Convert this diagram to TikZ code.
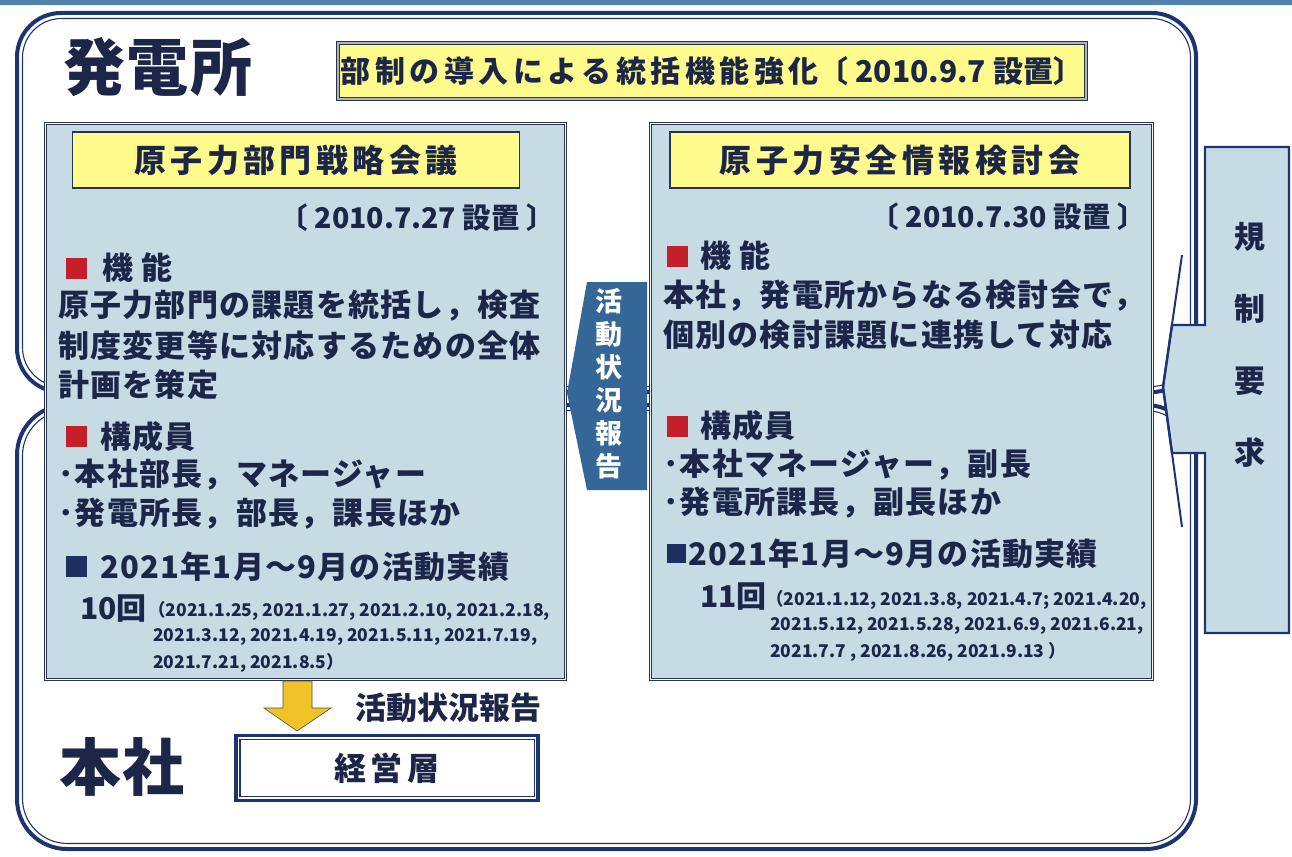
\documentclass[tikz,border=0pt]{standalone}
\usepackage{fontspec}
\setmainfont{Noto Sans CJK JP}
\definecolor{navy}{RGB}{28,52,112}
\definecolor{txt}{RGB}{28,38,72}
\definecolor{panelfill}{RGB}{199,219,229}
\definecolor{panelline}{RGB}{40,52,78}
\definecolor{ybox}{RGB}{255,250,140}
\definecolor{arrowblue}{RGB}{52,102,152}
\definecolor{sqred}{RGB}{196,32,44}
\definecolor{sqnavy}{RGB}{30,48,96}
\definecolor{arrowyellow}{RGB}{240,196,40}
\definecolor{stripe}{RGB}{80,130,175}
\tikzset{
  panel/.style={draw=panelline, line width=1pt, double=white!85!panelfill, double distance=1.6pt, fill=panelfill, anchor=north west, inner sep=0},
  titlebox/.style={draw=panelline, line width=1.6pt, fill=ybox, inner sep=0, font=\fontsize{32}{32}\selectfont\bfseries\addfontfeatures{LetterSpace=14}, text=txt},
  body/.style={anchor=west, inner sep=0, text=txt, font=\fontsize{31}{31}\selectfont\bfseries\addfontfeatures{LetterSpace=4}},
  dates/.style={anchor=west, inner sep=0, text=txt, font=\fontsize{17.5}{17.5}\selectfont\bfseries},
  setup/.style={anchor=east, inner sep=0, text=txt, font=\fontsize{28.5}{28.5}\selectfont\bfseries},
  redsq/.style={fill=sqred, minimum size=21pt, inner sep=0},
  navysq/.style={fill=sqnavy, minimum size=21pt, inner sep=0},
  big/.style={inner sep=0, text=txt, font=\fontsize{62}{62}\selectfont\bfseries\addfontfeatures{LetterSpace=3}},
  frame/.style={draw=navy, line width=4pt},
  framein/.style={draw=navy, line width=1.1pt},
}
\begin{document}
\begin{tikzpicture}[x=1pt,y=-1pt]
\useasboundingbox (0,0) rectangle (1292,856);
\fill[white] (0,0) rectangle (1292,856);
\fill[stripe] (0,0) rectangle (1292,5);

% outer frames
\draw[frame, rounded corners=44pt] (17,13) rectangle (1196,392);
\draw[framein, rounded corners=39pt] (22.5,18.5) rectangle (1190.5,386.5);
\draw[frame, rounded corners=50pt] (17,405) rectangle (1196,849);
\draw[framein, rounded corners=45pt] (22.5,410.5) rectangle (1190.5,843.5);

% big labels
\node[big] (hatsu) at (158,67) {発電所};
\node[big] (honsha) at (122,767) {本社};

% top title
\node[draw=panelline, line width=1pt, double=gray!60, double distance=1.2pt, fill=ybox, minimum width=748pt, minimum height=56pt, inner sep=0] (top) at (712,71) {};
\node[inner sep=0, text=txt, font=\fontsize{30}{30}\selectfont\bfseries] (toptxt) at (712,71) {{\addfontfeatures{LetterSpace=15}部制の導入による統括機能強化}〔 2010.9.7 設置〕};

% panels
\node[panel, minimum width=520pt, minimum height=556pt] (lp) at (45,123) {};
\node[panel, minimum width=502pt, minimum height=556pt] (rp) at (650,123) {};

% panel titles
\node[titlebox, minimum width=447pt, minimum height=56pt] (lt) at (296,160) {原子力部門戦略会議};
\node[titlebox, minimum width=460pt, minimum height=56pt] (rt) at (900,160) {原子力安全情報検討会};

% left panel content
\node[setup] (ls) at (555,218) {〔 2010.7.27 設置 〕};
\node[redsq] (lsq1) at (76,268) {};
\node[body] (lf) at (102,268) {機 能};
\node[body] (l1) at (58,306) {原子力部門の課題を統括し，検査};
\node[body] (l2) at (58,346) {制度変更等に対応するための全体};
\node[body] (l3) at (58,385) {計画を策定};
\node[redsq] (lsq2) at (76,436) {};
\node[body] (lm) at (100,437) {構成員};
\node[body] (l4) at (58,475) {･本社部長，マネージャー};
\node[body] (l5) at (58,514) {･発電所長，部長，課長ほか};
\node[navysq] (lsq3) at (76,566) {};
\node[body] (la) at (100,567) {2021年1月～9月の活動実績};
\node[body, font=\fontsize{30}{30}\selectfont\bfseries] (lc) at (80,609) {10回};
\node[dates] (ld1) at (148,611) {（2021.1.25, 2021.1.27, 2021.2.10, 2021.2.18,};
\node[dates] (ld2) at (153,637) {2021.3.12, 2021.4.19, 2021.5.11, 2021.7.19,};
\node[dates] (ld3) at (153,663) {2021.7.21, 2021.8.5）};

% right panel content
\node[setup] (rs) at (1146,217) {〔 2010.7.30 設置 〕};
\node[redsq] (rsq1) at (677,256) {};
\node[body] (rf) at (700,256) {機 能};
\node[body] (r1) at (663,296) {本社，発電所からなる検討会で，};
\node[body] (r2) at (663,335) {個別の検討課題に連携して対応};
\node[redsq] (rsq2) at (677,426) {};
\node[body] (rm) at (700,426) {構成員};
\node[body] (r3) at (663,465) {･本社マネージャー，副長};
\node[body] (r4) at (663,503) {･発電所課長，副長ほか};
\node[navysq, minimum size=19pt] (rsq3) at (676,553) {};
\node[body] (ra) at (688,554) {2021年1月～9月の活動実績};
\node[body, font=\fontsize{30}{30}\selectfont\bfseries] (rc) at (700,597) {11回};
\node[dates] (rd1) at (766,600) {（2021.1.12, 2021.3.8, 2021.4.7; 2021.4.20,};
\node[dates] (rd2) at (770,626) {2021.5.12, 2021.5.28, 2021.6.9, 2021.6.21,};
\node[dates] (rd3) at (770,652) {2021.7.7 , 2021.8.26, 2021.9.13 ）};

% report arrow between panels
\fill[arrowblue] (647,282) -- (587,282) -- (567,393) -- (587,490) -- (647,490) -- cycle;
\node[inner sep=0, text=white, align=center, font=\fontsize{27}{33}\selectfont\bfseries] (rep) at (609,384) {活\\動\\状\\況\\報\\告};

% regulation requirement box with arrow
\filldraw[fill=panelfill, draw=navy, line width=2.4pt, line join=miter]
  (1205,147) -- (1289,147) -- (1289,633) -- (1205,633) -- (1205,453) -- (1172,453)
  -- (1163,387) -- (1172,325) -- (1205,325) -- cycle;
\draw[navy, line width=2pt] (1182,255) -- (1163,387) -- (1182,527);
\node[inner sep=0, text=txt, align=center, font=\fontsize{31}{72}\selectfont\bfseries] (reg) at (1250,345) {規\\制\\要\\求};

% yellow down arrow
\filldraw[fill=arrowyellow, draw=gray!60!black, line width=0.6pt]
  (283,681) -- (312,681) -- (312,708) -- (331,708) -- (297,731) -- (264,708) -- (283,708) -- cycle;
\node[inner sep=0, text=txt, anchor=west, font=\fontsize{31}{31}\selectfont\bfseries] (reptxt) at (355,708) {活動状況報告};

% management box
\node[draw=navy, line width=1.2pt, double=white, double distance=1.6pt, fill=white, minimum width=297pt, minimum height=60pt, inner sep=0] (mgmt) at (387,768) {};
\draw[navy, line width=3.5pt] ([shift={(-2,-2)}]mgmt.north west) rectangle ([shift={(2,2)}]mgmt.south east);
\node[inner sep=0, text=txt, font=\fontsize{32}{32}\selectfont\bfseries\addfontfeatures{LetterSpace=15}] (mgmttxt) at (mgmt) {経営層};
\end{tikzpicture}
\end{document}
